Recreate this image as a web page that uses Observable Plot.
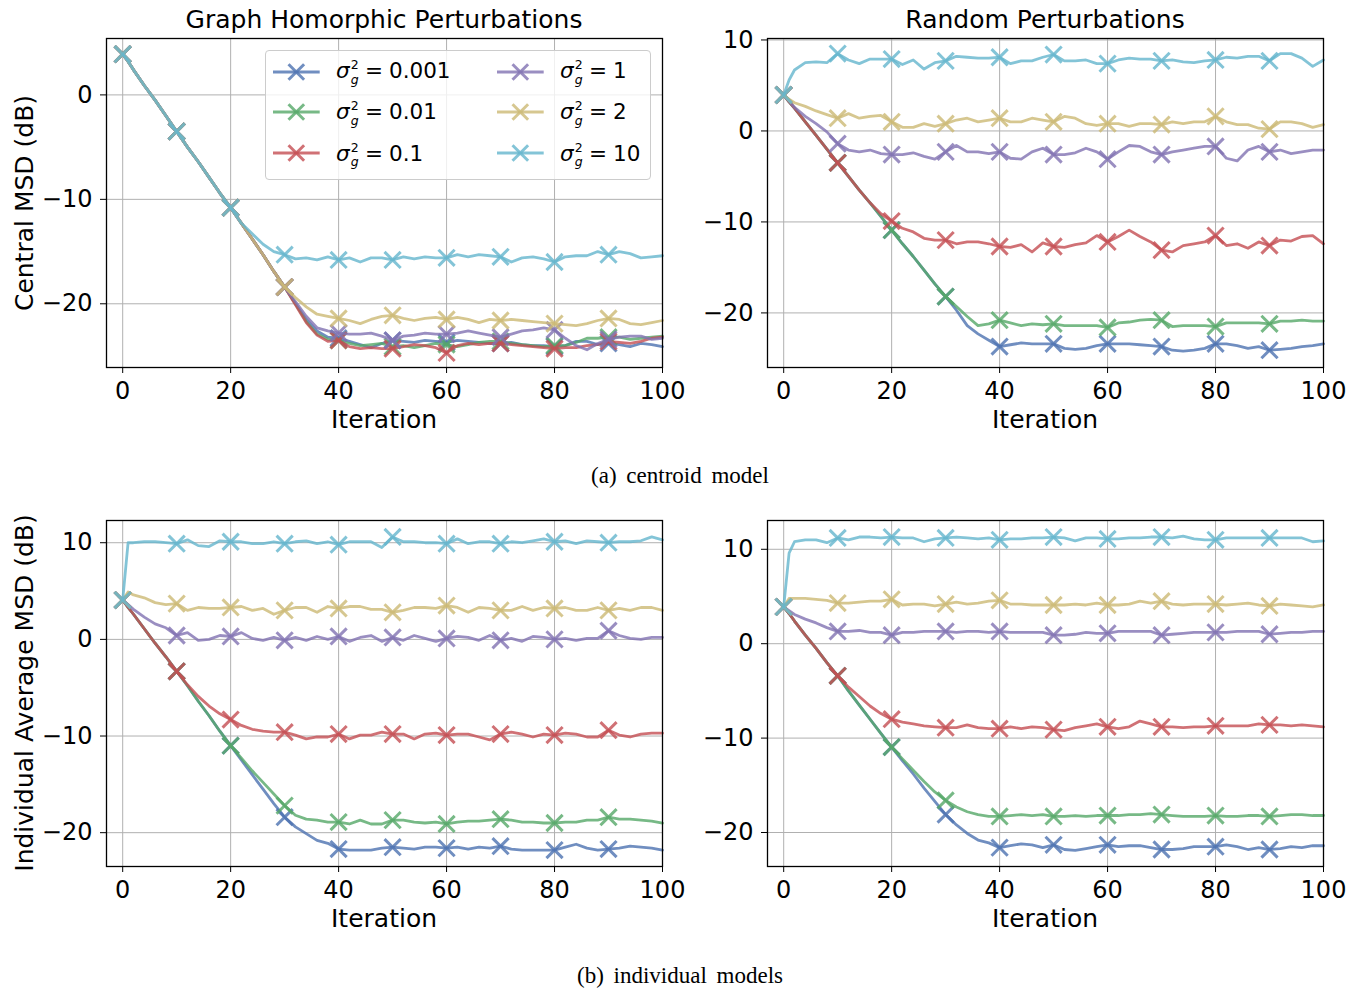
<!DOCTYPE html>
<html>
<head>
<meta charset="utf-8">
<script src="https://cdn.jsdelivr.net/npm/d3@7"></script>
<script src="https://cdn.jsdelivr.net/npm/@observablehq/plot@0.6"></script>
<style>
  html, body { margin: 0; padding: 0; background: #fff; }
  #root { position: relative; width: 1361px; height: 990px; overflow: hidden; background: #fff; color: #000; }
  .pn { position: absolute; }
  .tx { position: absolute; white-space: nowrap; color: #000; }
</style>
</head>
<body>
<div id="root"></div>
<script>
// ---------------- DATA ----------------
const ITER = [0,1,2,4,6,8,10,12,14,16,18,20,22,24,26,28,30,32,34,36,38,40,42,44,46,48,50,52,54,56,58,60,62,64,66,68,70,72,74,76,78,80,82,84,86,88,90,92,94,96,98,100];
const SIGMA_VALUES = ["0.001", "0.01", "0.1", "1", "2", "10"];
const COLORS = ["#4C72B0", "#55A868", "#C44E52", "#8172B2", "#CCB974", "#64B5CD"];
const X_TICKS = [0, 20, 40, 60, 80, 100];
const Y_TICKS_A = [0, -10, -20];
const Y_TICKS_B = [10, 0, -10, -20];
const Y_TICKS_C = [10, 0, -10, -20];
const Y_TICKS_D = [10, 0, -10, -20];

// (a) centroid model, Graph Homorphic Perturbations
const ghCentral_0001 = [3.9,3.2,2.4,0.9,-0.5,-2.0,-3.5,-5.0,-6.4,-7.9,-9.4,-10.8,-12.3,-13.8,-15.3,-16.9,-18.4,-20.0,-21.5,-22.6,-23.2,-23.3,-23.6,-23.9,-24.2,-23.8,-23.5,-23.6,-23.7,-23.5,-23.6,-23.7,-23.5,-23.6,-23.7,-23.8,-23.8,-23.7,-23.9,-24.0,-24.0,-24.1,-24.0,-23.6,-23.6,-23.9,-23.8,-23.9,-24.1,-23.8,-23.9,-24.1];
const ghCentral_001  = [3.9,3.2,2.4,0.9,-0.5,-2.0,-3.5,-5.0,-6.4,-7.9,-9.4,-10.8,-12.3,-13.8,-15.3,-16.9,-18.4,-20.0,-21.7,-22.9,-23.4,-23.5,-23.8,-24.0,-23.9,-23.8,-24.1,-24.0,-24.2,-24.0,-23.8,-23.9,-24.1,-23.9,-23.7,-23.6,-23.6,-23.8,-23.9,-24.0,-24.1,-24.0,-24.0,-23.7,-23.3,-23.3,-23.2,-23.2,-23.4,-23.3,-23.2,-23.1];
const ghCentral_01   = [3.9,3.2,2.4,0.9,-0.5,-2.0,-3.5,-5.0,-6.4,-7.9,-9.4,-10.8,-12.3,-13.8,-15.3,-16.9,-18.4,-20.1,-21.8,-23.0,-23.6,-23.5,-24.1,-24.3,-24.2,-24.3,-24.3,-24.1,-23.9,-24.0,-24.2,-24.7,-24.0,-23.8,-23.9,-23.8,-23.8,-23.9,-24.0,-24.1,-24.2,-24.3,-24.2,-24.2,-24.0,-23.9,-23.6,-23.7,-23.8,-23.6,-23.3,-23.2];
const ghCentral_1    = [3.9,3.2,2.4,0.9,-0.5,-2.0,-3.5,-5.0,-6.4,-7.9,-9.4,-10.8,-12.3,-13.8,-15.3,-16.9,-18.4,-19.8,-21.2,-22.3,-22.6,-22.8,-22.9,-22.9,-22.8,-23.1,-23.5,-23.1,-23.0,-22.8,-22.9,-22.9,-22.8,-22.6,-22.8,-23.0,-23.2,-22.9,-22.6,-22.5,-22.3,-22.5,-23.3,-24.0,-24.4,-23.8,-23.4,-23.2,-23.1,-23.1,-23.4,-23.3];
const ghCentral_2    = [3.9,3.2,2.4,0.9,-0.5,-2.0,-3.5,-5.0,-6.4,-7.9,-9.4,-10.8,-12.3,-13.8,-15.3,-16.9,-18.4,-19.4,-20.3,-21.0,-21.2,-21.4,-21.6,-21.9,-21.5,-21.2,-21.1,-21.4,-21.6,-21.4,-21.3,-21.5,-21.3,-21.5,-21.8,-21.5,-21.6,-21.5,-21.6,-21.7,-21.8,-21.9,-22.0,-22.1,-21.9,-21.6,-21.4,-21.5,-21.9,-22.0,-21.8,-21.6];
const ghCentral_10   = [3.9,3.2,2.4,0.9,-0.5,-2.0,-3.5,-5.0,-6.4,-7.9,-9.4,-10.8,-12.3,-13.3,-14.3,-15.0,-15.3,-15.7,-15.6,-15.8,-15.5,-15.8,-15.6,-16.0,-15.6,-15.6,-15.8,-15.5,-15.7,-15.5,-15.6,-15.6,-15.3,-15.5,-15.3,-15.4,-15.5,-16.0,-15.6,-15.5,-15.7,-16.0,-15.5,-15.4,-15.4,-15.0,-15.3,-15.0,-15.2,-15.6,-15.5,-15.4];

// (a) centroid model, Random Perturbations
const rpCentral_0001 = [3.95,3.2,2.5,1.0,-0.5,-2.0,-3.5,-5.0,-6.5,-7.9,-9.4,-10.9,-12.4,-13.8,-15.3,-16.8,-18.2,-19.7,-21.4,-22.3,-23.0,-23.7,-23.5,-23.3,-23.4,-23.4,-23.4,-23.9,-24.0,-23.9,-23.6,-23.4,-23.4,-23.4,-23.5,-23.6,-23.7,-24.1,-24.2,-24.1,-23.9,-23.4,-23.4,-23.6,-23.9,-23.7,-24.1,-24.0,-23.9,-23.7,-23.6,-23.4];
const rpCentral_001  = [3.95,3.2,2.5,1.0,-0.5,-2.0,-3.5,-5.0,-6.5,-7.9,-9.4,-10.9,-12.4,-13.8,-15.3,-16.8,-18.2,-19.3,-20.4,-21.4,-21.2,-20.8,-21.1,-21.4,-21.2,-21.3,-21.2,-21.4,-21.4,-21.4,-21.4,-21.6,-21.1,-21.0,-20.8,-20.7,-20.8,-21.5,-21.4,-21.4,-21.4,-21.5,-21.1,-21.1,-21.1,-21.1,-21.2,-20.9,-20.9,-20.8,-20.9,-20.9];
const rpCentral_01   = [3.95,3.2,2.5,1.0,-0.5,-2.0,-3.5,-5.0,-6.5,-7.9,-9.1,-9.9,-10.7,-11.1,-11.8,-12.0,-12.0,-12.4,-12.2,-12.2,-12.4,-12.7,-12.8,-12.5,-13.3,-12.3,-12.7,-12.8,-12.5,-12.3,-11.5,-12.2,-11.6,-10.9,-11.6,-12.2,-13.1,-13.3,-12.6,-12.4,-12.2,-11.5,-12.6,-12.4,-12.9,-12.2,-12.6,-12.0,-12.1,-11.6,-11.5,-12.4];
const rpCentral_1    = [3.95,3.3,2.6,1.6,0.8,-0.1,-1.4,-2.1,-2.3,-2.1,-2.5,-2.6,-2.6,-2.4,-2.8,-3.1,-2.3,-1.6,-2.3,-2.3,-2.5,-2.3,-3.0,-3.1,-2.3,-1.9,-2.6,-2.6,-2.4,-1.9,-2.3,-3.1,-2.3,-1.6,-1.7,-2.3,-2.6,-2.3,-2.1,-1.9,-1.7,-1.7,-3.0,-3.3,-2.1,-1.7,-2.3,-2.1,-2.5,-2.3,-2.1,-2.1];
const rpCentral_2    = [3.95,3.5,3.1,2.7,2.2,1.8,1.4,1.9,1.4,1.6,1.7,1.0,0.4,0.4,0.8,0.5,0.8,1.2,1.4,1.0,1.2,1.4,1.0,1.0,1.4,1.2,1.0,1.6,1.4,0.8,0.6,0.8,0.8,0.5,0.8,0.8,0.7,1.0,0.8,1.0,1.0,1.6,1.0,0.7,0.7,0.3,0.2,1.0,1.0,0.8,0.4,0.7];
const rpCentral_10   = [3.95,5.6,6.7,7.5,7.6,7.5,8.5,7.8,7.4,7.9,7.9,7.9,7.3,7.8,6.8,7.5,7.7,8.2,8.1,8.0,8.0,8.1,7.4,7.7,7.7,8.1,8.4,7.7,7.7,7.8,7.4,7.4,7.8,8.0,7.9,7.9,7.7,7.8,7.6,7.5,7.7,7.8,8.1,8.0,8.2,8.2,7.7,8.5,8.5,8.0,7.1,7.8];

// (b) individual models, Graph Homorphic Perturbations
const ghIndiv_0001 = [4.07,3.3,2.6,1.1,-0.4,-1.8,-3.3,-4.8,-6.4,-7.9,-9.5,-11.0,-12.5,-14.0,-15.5,-17.0,-18.4,-19.4,-20.1,-20.8,-21.1,-21.7,-21.8,-21.8,-21.8,-21.6,-21.5,-21.6,-21.7,-21.5,-21.5,-21.6,-21.5,-21.7,-21.5,-21.6,-21.4,-21.7,-21.8,-21.8,-21.8,-21.8,-21.5,-21.2,-21.6,-21.8,-21.7,-21.6,-21.4,-21.5,-21.6,-21.8];
const ghIndiv_001  = [4.07,3.3,2.6,1.1,-0.4,-1.8,-3.3,-4.8,-6.4,-7.9,-9.5,-11.0,-12.3,-13.6,-14.8,-16.0,-17.2,-18.2,-18.6,-18.7,-18.9,-18.9,-19.1,-18.7,-19.1,-19.1,-18.7,-18.7,-18.9,-19.0,-18.9,-19.1,-18.9,-18.8,-18.8,-18.7,-18.6,-18.7,-18.9,-18.9,-19.0,-19.0,-18.9,-18.9,-18.7,-18.7,-18.4,-18.6,-18.6,-18.7,-18.8,-19.0];
const ghIndiv_01   = [4.07,3.3,2.6,1.1,-0.4,-1.8,-3.3,-4.7,-5.9,-6.9,-7.7,-8.3,-8.9,-9.3,-9.5,-9.6,-9.6,-9.9,-10.3,-10.1,-10.1,-9.8,-10.3,-9.9,-9.9,-9.6,-9.8,-9.8,-10.3,-9.8,-9.7,-9.9,-9.8,-9.8,-10.1,-10.4,-9.8,-9.6,-9.8,-10.1,-9.8,-9.9,-9.7,-9.8,-10.1,-10.1,-9.4,-9.9,-10.1,-9.8,-9.7,-9.7];
const ghIndiv_1    = [4.07,3.6,3.1,2.3,1.6,1.2,0.4,0.7,-0.1,0.0,0.4,0.3,0.7,0.1,-0.1,0.2,-0.1,0.2,-0.1,0.3,0.0,0.3,-0.2,0.2,0.4,-0.2,0.2,-0.1,0.4,0.1,-0.2,0.1,0.3,0.2,-0.1,0.4,-0.1,0.1,-0.2,0.3,0.2,0.0,0.1,-0.1,0.1,0.1,0.9,0.4,0.1,0.0,0.2,0.2];
const ghIndiv_2    = [4.07,4.9,4.6,4.3,3.8,3.6,3.7,3.0,3.3,3.2,3.2,3.3,3.4,3.0,3.2,2.6,3.0,3.3,3.3,2.8,3.4,3.2,3.4,3.4,3.1,3.1,2.8,3.0,3.3,3.3,3.2,3.5,3.3,2.8,3.3,3.2,3.0,3.0,3.4,3.0,3.3,3.2,3.3,3.0,3.0,3.3,3.0,3.2,3.0,3.3,3.3,3.0];
const ghIndiv_10   = [4.07,10.0,10.0,10.1,10.1,10.0,9.9,10.3,9.7,9.6,10.2,10.1,10.1,9.9,9.9,10.1,9.9,10.1,10.2,9.9,10.1,9.8,10.1,10.1,10.1,9.5,10.6,10.1,10.1,10.0,10.0,9.9,10.4,9.9,10.1,10.1,9.9,10.1,10.0,10.2,10.4,10.1,10.2,9.9,10.2,10.1,10.0,10.1,10.1,10.2,10.6,10.3];

// (b) individual models, Random Perturbations
const rpIndiv_0001 = [3.9,3.2,2.4,0.9,-0.5,-2.0,-3.4,-5.0,-6.5,-8.0,-9.5,-10.95,-12.4,-13.8,-15.3,-16.7,-18.1,-19.2,-20.1,-20.8,-21.1,-21.6,-21.4,-21.2,-21.3,-21.6,-21.3,-21.8,-21.9,-21.7,-21.5,-21.3,-21.5,-21.4,-21.4,-21.6,-21.8,-21.8,-21.7,-21.5,-21.5,-21.5,-21.3,-21.5,-21.8,-21.6,-21.8,-21.7,-21.5,-21.6,-21.4,-21.4];
const rpIndiv_001  = [3.9,3.2,2.4,0.9,-0.5,-2.0,-3.4,-5.0,-6.5,-8.0,-9.5,-10.95,-12.2,-13.4,-14.6,-15.7,-16.6,-17.3,-17.8,-18.1,-18.3,-18.3,-18.2,-18.1,-18.2,-18.1,-18.3,-18.3,-18.2,-18.3,-18.2,-18.2,-18.2,-18.1,-18.1,-18.0,-18.1,-18.2,-18.3,-18.3,-18.3,-18.2,-18.3,-18.3,-18.2,-18.2,-18.3,-18.2,-18.1,-18.1,-18.2,-18.2];
const rpIndiv_01   = [3.9,3.2,2.4,0.9,-0.5,-2.0,-3.4,-4.6,-5.6,-6.6,-7.4,-8.0,-8.3,-8.5,-8.7,-8.8,-8.9,-8.9,-8.6,-8.9,-9.0,-9.0,-8.8,-9.0,-8.8,-8.9,-9.1,-9.2,-8.9,-8.7,-8.5,-8.8,-9.0,-8.8,-8.2,-8.5,-8.8,-8.8,-8.9,-8.8,-8.8,-8.7,-8.7,-8.7,-8.7,-8.5,-8.6,-8.6,-8.7,-8.6,-8.7,-8.8];
const rpIndiv_1    = [3.9,3.5,3.1,2.6,2.2,1.7,1.3,1.3,1.4,1.2,1.2,0.9,1.2,1.2,1.3,1.3,1.3,1.2,1.3,1.3,1.2,1.3,1.2,1.2,1.2,1.2,0.9,0.9,1.0,1.2,1.1,1.1,1.3,1.3,1.3,1.3,0.9,1.0,1.1,1.2,1.2,1.2,1.2,1.3,1.3,1.3,1.0,1.1,1.2,1.2,1.3,1.3];
const rpIndiv_2    = [3.9,4.8,4.8,4.8,4.7,4.6,4.3,4.3,4.4,4.5,4.5,4.7,4.1,4.2,4.2,4.0,4.2,4.4,4.2,4.3,4.5,4.6,4.2,4.2,4.1,4.1,4.1,4.1,4.2,4.1,4.3,4.1,4.1,4.2,4.5,4.3,4.5,4.2,4.1,4.2,4.2,4.2,4.1,4.2,4.3,4.1,4.0,4.2,4.1,4.0,3.9,4.1];
const rpIndiv_10   = [3.9,9.6,10.8,11.0,11.0,10.7,11.2,11.0,11.3,11.3,11.2,11.3,11.2,11.2,10.8,11.1,11.2,11.3,11.2,11.1,11.2,11.0,11.1,11.1,11.2,11.2,11.3,11.2,10.9,11.2,11.2,11.1,11.1,11.2,11.2,11.3,11.3,11.2,11.4,11.1,11.0,11.0,11.2,11.2,11.2,11.2,11.2,11.2,11.2,11.2,10.8,10.9];

// ---------------- RENDER ----------------
const root = document.getElementById("root");
const FONT = "'DejaVu Sans', sans-serif";
const LINE_W = 2.8, MARK_R = 7.4, MARK_W = 3;

function makePanel(series, cfg) {
  const marks = [
    Plot.gridX(X_TICKS, {stroke: "#b0b0b0", strokeOpacity: 1, strokeWidth: 1}),
    Plot.gridY(cfg.yTicks, {stroke: "#b0b0b0", strokeOpacity: 1, strokeWidth: 1})
  ];
  series.forEach((vals, i) => {
    const rows = ITER.map((it, j) => ({it, v: vals[j]}));
    marks.push(Plot.line(rows, {x: "it", y: "v", stroke: COLORS[i], strokeWidth: LINE_W, strokeOpacity: 0.8}));
    marks.push(Plot.dot(rows.filter(d => d.it % 10 === 0 && d.it < 100), {
      x: "it", y: "v", symbol: "times", r: MARK_R, fill: "none",
      stroke: COLORS[i], strokeWidth: MARK_W, strokeOpacity: 0.8
    }));
  });
  marks.push(Plot.frame({stroke: "#000", strokeWidth: 1.3}));
  marks.push(Plot.axisX(X_TICKS, {tickSize: 6, tickPadding: 8, fontSize: 24, label: null, stroke: "#000"}));
  marks.push(Plot.axisY(cfg.yTicks, {tickSize: 6, tickPadding: 8, fontSize: 24, label: null, stroke: "#000"}));

  const chart = Plot.plot({
    width: cfg.width, height: cfg.height,
    marginLeft: cfg.mL, marginTop: cfg.mT, marginRight: cfg.mR, marginBottom: cfg.mB,
    x: {domain: [-3, 100], label: null},
    y: {domain: cfg.yDomain, label: null},
    style: {fontFamily: FONT, fontSize: "24px", background: "transparent", color: "#000", overflow: "visible"},
    marks
  });
  const div = document.createElement("div");
  div.className = "pn";
  div.style.left = cfg.left + "px";
  div.style.top = cfg.top + "px";
  div.style.width = cfg.width + "px";
  div.style.height = cfg.height + "px";
  div.appendChild(chart);
  root.appendChild(div);
}

makePanel([ghCentral_0001, ghCentral_001, ghCentral_01, ghCentral_1, ghCentral_2, ghCentral_10],
  {left: 0, top: 0, width: 680, height: 440, mL: 106, mT: 38, mR: 18, mB: 73, yDomain: [-26.1, 5.4], yTicks: Y_TICKS_A});
makePanel([rpCentral_0001, rpCentral_001, rpCentral_01, rpCentral_1, rpCentral_2, rpCentral_10],
  {left: 690, top: 0, width: 651, height: 440, mL: 77, mT: 38, mR: 18, mB: 73, yDomain: [-26.0, 10.16], yTicks: Y_TICKS_B});
makePanel([ghIndiv_0001, ghIndiv_001, ghIndiv_01, ghIndiv_1, ghIndiv_2, ghIndiv_10],
  {left: 0, top: 480, width: 680, height: 459, mL: 106, mT: 40, mR: 18, mB: 73, yDomain: [-23.5, 12.3], yTicks: Y_TICKS_C});
makePanel([rpIndiv_0001, rpIndiv_001, rpIndiv_01, rpIndiv_1, rpIndiv_2, rpIndiv_10],
  {left: 690, top: 480, width: 651, height: 459, mL: 77, mT: 40, mR: 18, mB: 73, yDomain: [-23.6, 13.05], yTicks: Y_TICKS_D});

// text helper: places text so its baseline sits at `baseline`
function addText(txt, x, baseline, size, opts = {}) {
  const fam = opts.family || FONT;
  const asc = opts.serif ? 0.891 : 0.928, desc = opts.serif ? 0.216 : 0.236;
  const lh = opts.lh || size;
  const d = document.createElement("div");
  d.className = "tx";
  d.textContent = txt;
  d.style.fontFamily = fam;
  d.style.fontSize = size + "px";
  d.style.lineHeight = lh + "px";
  if (opts.italic) d.style.fontStyle = "italic";
  if (opts.wordSpacing) d.style.wordSpacing = opts.wordSpacing + "px";
  d.style.left = x + "px";
  d.style.top = (baseline - (lh / 2 + (asc - desc) / 2 * size)) + "px";
  if (opts.center) d.style.transform = "translateX(-50%)";
  root.appendChild(d);
  return d;
}
function addRotated(txt, cx, cy, size) {
  const d = document.createElement("div");
  d.className = "tx";
  d.textContent = txt;
  d.style.fontFamily = FONT;
  d.style.fontSize = size + "px";
  d.style.lineHeight = size + "px";
  d.style.left = cx + "px";
  d.style.top = cy + "px";
  d.style.transform = "translate(-50%,-50%) rotate(-90deg)";
  root.appendChild(d);
}

// titles
addText("Graph Homorphic Perturbations", 384, 28.5, 25, {center: true});
addText("Random Perturbations", 1045, 28.5, 25, {center: true});
// x labels
addText("Iteration", 384, 428.5, 25, {center: true});
addText("Iteration", 1045, 428.5, 25, {center: true});
addText("Iteration", 384, 927.5, 25, {center: true});
addText("Iteration", 1045, 927.5, 25, {center: true});
// y labels
addRotated("Central MSD (dB)", 24, 202.5, 25);
addRotated("Individual Average MSD (dB)", 24, 693, 25);
// captions
const SERIF = "'Liberation Serif', 'Times New Roman', serif";
addText("(a) centroid model", 680, 483.5, 23, {center: true, family: SERIF, serif: true, wordSpacing: 4});
addText("(b) individual models", 680, 983, 23, {center: true, family: SERIF, serif: true, wordSpacing: 4});

// legend (inside top-left panel)
const lg = document.createElement("div");
lg.style.cssText = "position:absolute;left:265px;top:50px;width:386px;height:130px;box-sizing:border-box;border:1px solid #cccccc;border-radius:4px;background:rgba(255,255,255,0.8);";
root.appendChild(lg);
const ROW_CENTER = [71.7, 111.7, 153.3];
const ROW_BASE = [78.3, 119.3, 160.7];
SIGMA_VALUES.forEach((val, i) => {
  const col = i < 3 ? 0 : 1, row = i % 3;
  const sx = col ? 496.7 : 272.7;
  const cy = ROW_CENTER[row];
  const ns = "http://www.w3.org/2000/svg";
  const sw = document.createElementNS(ns, "svg");
  sw.setAttribute("width", 50); sw.setAttribute("height", 22);
  sw.style.cssText = `position:absolute;left:${sx - 2}px;top:${cy - 11}px;overflow:visible`;
  const ln = document.createElementNS(ns, "line");
  ln.setAttribute("x1", 2); ln.setAttribute("x2", 48.7); ln.setAttribute("y1", 11); ln.setAttribute("y2", 11);
  ln.setAttribute("stroke", COLORS[i]); ln.setAttribute("stroke-width", LINE_W); ln.setAttribute("stroke-opacity", 0.8);
  sw.appendChild(ln);
  const mk = document.createElementNS(ns, "path");
  const mx = 25.3, h = 7.8;
  mk.setAttribute("d", `M${mx - h},${11 - h}L${mx + h},${11 + h}M${mx - h},${11 + h}L${mx + h},${11 - h}`);
  mk.setAttribute("stroke", COLORS[i]); mk.setAttribute("stroke-width", MARK_W); mk.setAttribute("stroke-opacity", 0.8); mk.setAttribute("fill", "none");
  sw.appendChild(mk);
  root.appendChild(sw);

  const tx = col ? 560 : 336;
  const b = ROW_BASE[row];
  addText("σ", tx, b, 21.5, {italic: true, lh: 17});
  addText("2", tx + 14.8, b - 9.2, 12.5, {lh: 9});
  addText("g", tx + 14.8, b + 5.6, 12.5, {italic: true, lh: 9});
  addText("=", tx + 29, b, 21.5, {lh: 17});
  addText(val, tx + 53, b, 21.5, {lh: 17});
});
</script>
</body>
</html>
